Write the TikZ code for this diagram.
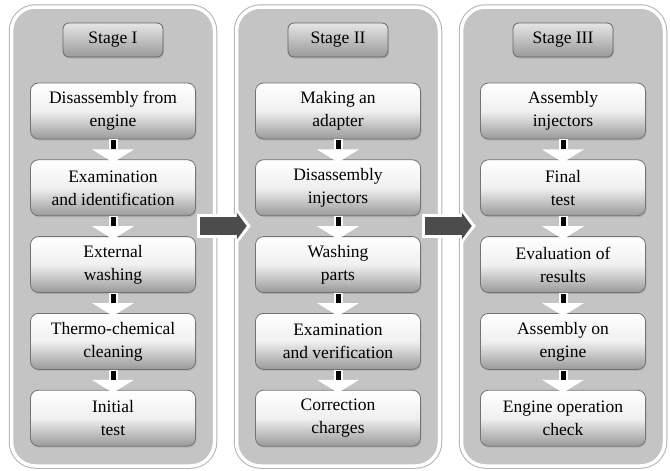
\documentclass[tikz,border=0pt]{standalone}
\usepackage{fontspec}
\setmainfont{Liberation Serif}
\usepackage{tikz}
\usetikzlibrary{positioning,arrows.meta,shadows}

\begin{document}
\begin{tikzpicture}[x=1pt,y=-1pt,node distance=20pt,
  panel/.style={rounded corners=24pt,fill=black!23,draw=white,line width=3.5pt,
    minimum width=203pt,minimum height=459pt,preaction={draw=black!30,line width=5.5pt}},
  stagebox/.style={rounded corners=6pt,draw=black!60,line width=0.8pt,
    top color=black!10,bottom color=black!40,minimum width=100pt,minimum height=34pt,
    text=black,font=\fontsize{17.5}{23}\selectfont,
    drop shadow={opacity=0.25,shadow xshift=1pt,shadow yshift=-1.5pt}},
  stepbox/.style={rounded corners=8pt,draw=black!55,line width=0.8pt,
    top color=white,bottom color=black!40,middle color=black!6,
    minimum width=165pt,minimum height=56pt,align=center,
    text=black,font=\fontsize{17.5}{23}\selectfont,
    drop shadow={opacity=0.25,shadow xshift=1pt,shadow yshift=-1.5pt}},
  steparrow/.style={draw=white,line width=9pt,shorten >=-3pt,
    -{Triangle[width=42pt,length=13pt,line width=0pt]}},
  stepbar/.style={draw=black,line width=5pt,shorten >=10pt,shorten <=1pt},
  stageglow/.style={draw=white,line width=24pt,shorten <=-3pt,shorten >=-4pt,
    -{Triangle[width=36pt,length=14pt,line width=0pt]}},
  stagearrow/.style={draw=black!70,line width=18pt,
    -{Triangle[width=27pt,length=10pt,line width=0pt]}}]
\useasboundingbox (0,0) rectangle (670,471);

% stages
\node[panel] (p1) at (113,236.5) {};
\node[panel] (p2) at (338,236.5) {};
\node[panel] (p3) at (563,236.5) {};

\node[stagebox] (t1) at (113,40) {Stage I};
\node[stagebox] (t2) at (338,40) {Stage II};
\node[stagebox] (t3) at (563,40) {Stage III};

% stage I
\node[stepbox] (a1) at (113,111) {Disassembly from\\engine};
\node[stepbox,below=of a1] (a2) {Examination\\and identification};
\node[stepbox,below=of a2] (a3) {External\\washing};
\node[stepbox,below=of a3] (a4) {Thermo-chemical\\cleaning};
\node[stepbox,below=of a4] (a5) {Initial\\test};

% stage II
\node[stepbox] (b1) at (338,111) {Making an\\adapter};
\node[stepbox,below=of b1] (b2) {Disassembly\\injectors};
\node[stepbox,below=of b2] (b3) {Washing\\parts};
\node[stepbox,below=of b3] (b4) {Examination\\and verification};
\node[stepbox,below=of b4] (b5) {Correction\\charges};

% stage III
\node[stepbox] (c1) at (563,111) {Assembly\\injectors};
\node[stepbox,below=of c1] (c2) {Final\\test};
\node[stepbox,below=of c2] (c3) {Evaluation of\\results};
\node[stepbox,below=of c3] (c4) {Assembly on\\engine};
\node[stepbox,below=of c4] (c5) {Engine operation\\check};

% arrows inside the stages
\foreach \s in {a,b,c}
  \foreach \i/\j in {1/2,2/3,3/4,4/5}{
    \draw[steparrow] (\s\i.south) -- (\s\j.north);
    \draw[stepbar] (\s\i.south) -- (\s\j.north);
  }

% arrows between the stages
\foreach \u/\v in {p1/p2,p2/p3}{
  \draw[stageglow] ([xshift=-16pt,yshift=10.5pt]\u.east) -- ([xshift=12pt,yshift=10.5pt]\v.west);
  \draw[stagearrow] ([xshift=-16pt,yshift=10.5pt]\u.east) -- ([xshift=12pt,yshift=10.5pt]\v.west);
}
\end{tikzpicture}
\end{document}
